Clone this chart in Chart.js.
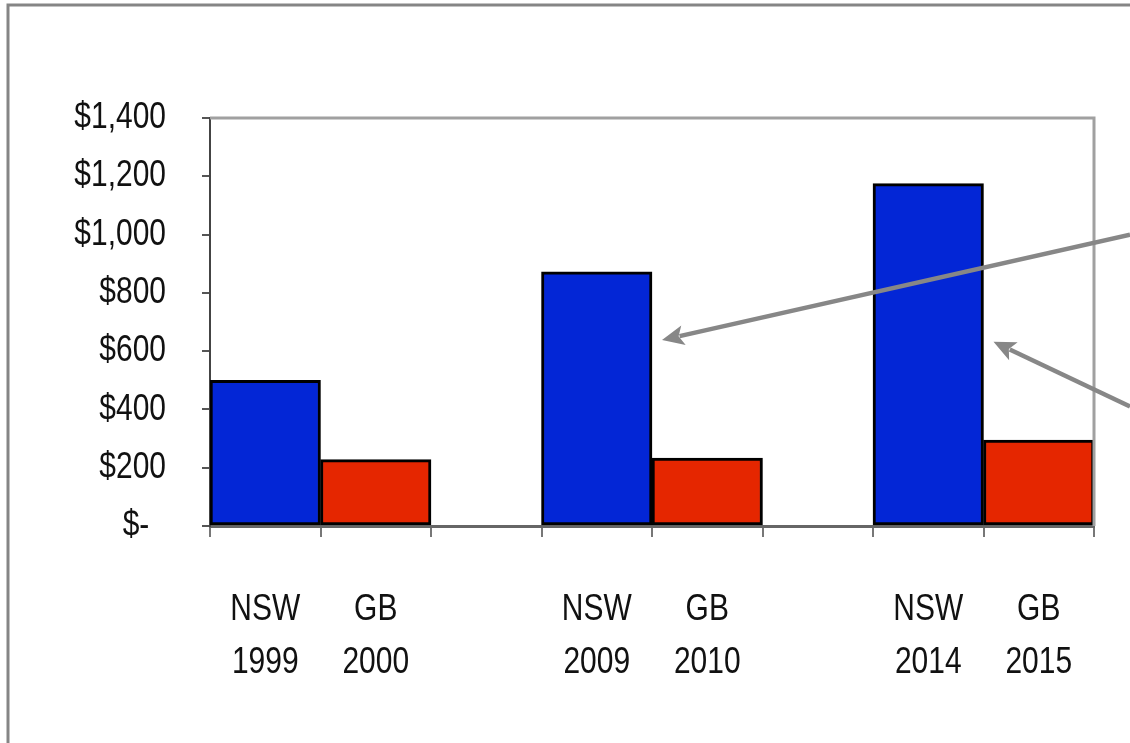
<!DOCTYPE html>
<html>
<head>
<meta charset="utf-8">
<script src="https://cdn.jsdelivr.net/npm/chart.js@4/dist/chart.umd.min.js"></script>
<style>
  html, body { margin: 0; padding: 0; background: #fff; }
  #wrap { width: 1130px; height: 743px; position: relative; }
</style>
</head>
<body>
<div id="wrap"><canvas id="chart" width="1130" height="743"></canvas></div>
<script>
// --- data ---
const categories = [['NSW', '1999'], ['GB', '2000'], '', ['NSW', '2009'], ['GB', '2010'], '', ['NSW', '2014'], ['GB', '2015']];
const nswValues = [500, 872, 1175];
const gbValues = [228, 233, 295];
const nswSlots = [0, 3, 6];
const gbSlots = [1, 4, 7];
const yTicks = [0, 200, 400, 600, 800, 1000, 1200, 1400];
// arrows: [bar slot the arrow points at, value at tip, value where it leaves the right edge]
const arrows = [[3, 638, 1000], [6, 632, 410]];

const nswData = categories.map(() => null);
const gbData = categories.map(() => null);
nswSlots.forEach((s, i) => nswData[s] = nswValues[i]);
gbSlots.forEach((s, i) => gbData[s] = gbValues[i]);

Chart.defaults.font.family = "'Liberation Sans', Arial, sans-serif";
Chart.defaults.color = '#111';

// axis labels in the original are a narrow face: squeeze them while the scales draw
const NARROW = 0.81;
let origFillText = null;

const extras = {
    id: 'extras',
    beforeDraw(chart) {
        const c = chart.ctx;
        c.save();
        c.strokeStyle = '#858585';
        c.lineWidth = 3;
        c.beginPath();
        c.moveTo(8, 743);
        c.lineTo(8, 5);
        c.lineTo(1130, 5);
        c.stroke();
        c.restore();

        origFillText = c.fillText;
        c.fillText = function(text, x, y, maxWidth) {
            this.save();
            this.translate(x, y);
            this.scale(NARROW, 1);
            origFillText.call(this, text, 0, 0);
            this.restore();
        };
    },
    beforeDatasetsDraw(chart) {
        if (origFillText) {
            chart.ctx.fillText = origFillText;
            origFillText = null;
        }
    },
    afterDraw(chart) {
        const c = chart.ctx;
        const a = chart.chartArea;
        const y = chart.scales.y;
        c.save();
        c.strokeStyle = '#a0a0a0';
        c.lineWidth = 3;
        c.beginPath();
        c.moveTo(a.left, a.top);
        c.lineTo(a.right, a.top);
        c.lineTo(a.right, a.bottom);
        c.stroke();

        const bars = chart.getDatasetMeta(0).data;
        arrows.forEach(([slot, tipVal, startVal]) => {
            const bar = bars[slot];
            const tx = bar.x + bar.width / 2 + 10;
            const ty = y.getPixelForValue(tipVal);
            const sx = chart.width;
            const sy = y.getPixelForValue(startVal);
            const ang = Math.atan2(ty - sy, tx - sx);
            const len = 22, half = 10;
            const bx = tx - len * Math.cos(ang), by = ty - len * Math.sin(ang);
            c.strokeStyle = '#878787';
            c.fillStyle = '#878787';
            c.lineWidth = 4.5;
            c.beginPath();
            c.moveTo(sx, sy);
            c.lineTo(bx + 4 * Math.cos(ang), by + 4 * Math.sin(ang));
            c.stroke();
            c.beginPath();
            c.moveTo(tx, ty);
            c.lineTo(bx - half * Math.sin(ang), by + half * Math.cos(ang));
            c.lineTo(bx + 5 * Math.cos(ang), by + 5 * Math.sin(ang));
            c.lineTo(bx + half * Math.sin(ang), by - half * Math.cos(ang));
            c.closePath();
            c.fill();
        });
        c.restore();
    }
};

new Chart(document.getElementById('chart'), {
    type: 'bar',
    data: {
        labels: categories,
        datasets: [{
            label: 'NSW',
            data: nswData,
            backgroundColor: '#0326d6',
            borderColor: '#000',
            borderWidth: 3,
            borderSkipped: false
        }, {
            label: 'GB',
            data: gbData,
            backgroundColor: '#e52600',
            borderColor: '#000',
            borderWidth: 3,
            borderSkipped: false
        }]
    },
    options: {
        responsive: false,
        animation: false,
        layout: { padding: { left: 0, top: 118, right: 36, bottom: 20 } },
        plugins: { legend: { display: false }, tooltip: { enabled: false } },
        datasets: { bar: { categoryPercentage: 1, barPercentage: 1 } },
        scales: {
            x: {
                stacked: true,
                afterFit(s) { s.height = 197; },
                grid: { drawOnChartArea: false, drawTicks: true, tickLength: 11, color: '#777', lineWidth: 2, offset: true },
                border: { color: '#666', width: 3 },
                ticks: { font: { size: 37, lineHeight: 1.43 }, padding: 46, maxRotation: 0, autoSkip: false, color: '#111' }
            },
            y: {
                stacked: true,
                min: 0,
                max: 1400,
                afterFit(s) { s.width = 210; },
                afterBuildTicks(s) { s.ticks = yTicks.map(v => ({ value: v })); },
                grid: { drawOnChartArea: false, drawTicks: true, tickLength: 8, color: '#555', lineWidth: 2 },
                border: { color: '#444', width: 2 },
                ticks: {
                    font: { size: 37 },
                    padding: 36,
                    color: '#111',
                    callback: v => v === 0 ? '$-  ' : '$' + v.toLocaleString('en-US')
                }
            }
        }
    },
    plugins: [extras]
});
</script>
</body>
</html>
